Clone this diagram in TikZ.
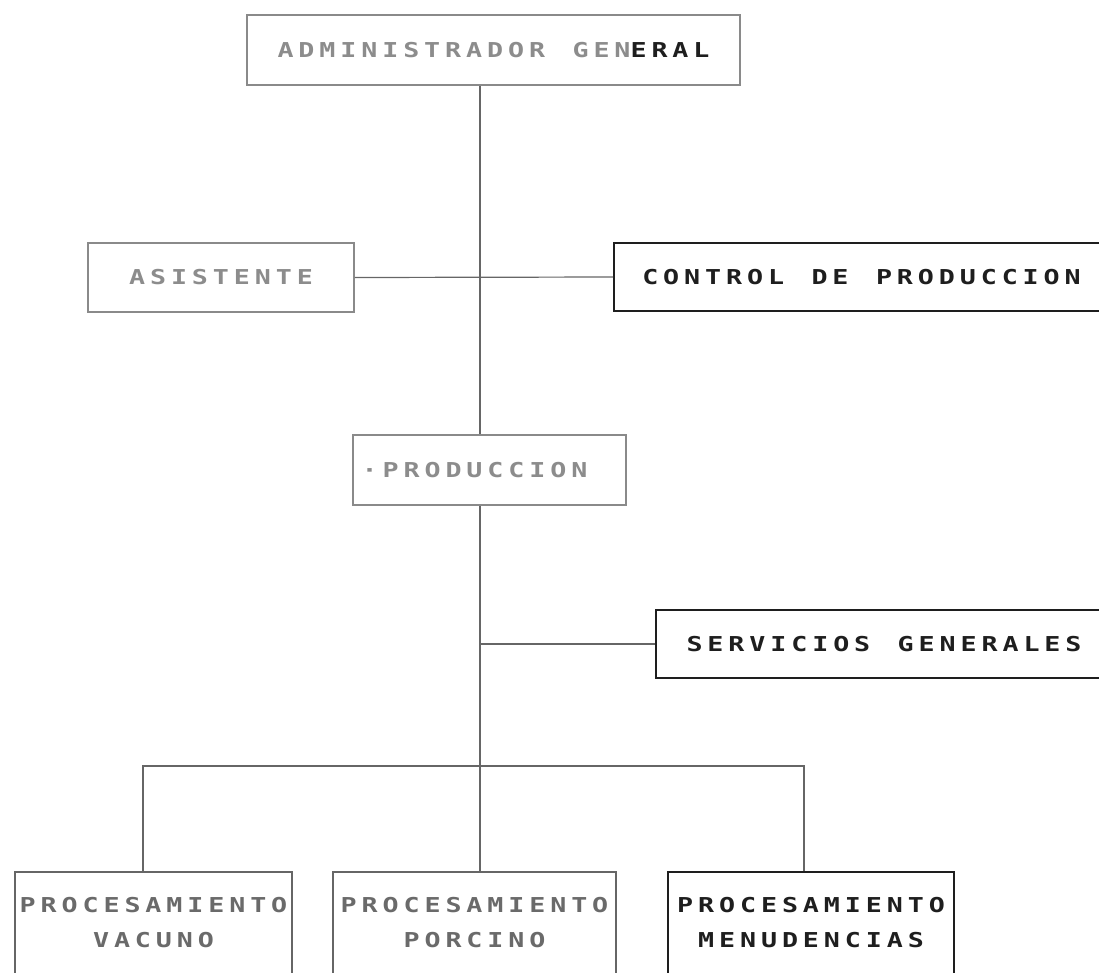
\documentclass[tikz,border=0pt]{standalone}
\usepackage{fontspec}
% wide, tracked monospace lettering for the box labels
\newfontfamily\boxfont[FakeStretch=1.3, LetterSpace=24, WordSpace=1.31]{DejaVu Sans Mono}
\definecolor{inkfade}{HTML}{8C8C8C}
\definecolor{inkmid}{HTML}{6A6A6A}
\definecolor{inkdark}{HTML}{1E1E1E}
\definecolor{edgefade}{HTML}{8A8A8A}
\definecolor{edgemid}{HTML}{666666}

\begin{document}
\begin{tikzpicture}[x=1pt, y=-1pt,
  unit/.style={draw, rectangle, inner sep=0pt, line width=1.6pt, align=center,
    font=\boxfont\bfseries\fontsize{20.5}{35}\selectfont},
  faded/.style={unit, draw=edgefade, text=inkfade},
  middling/.style={unit, draw=edgemid, text=inkmid},
  strong/.style={unit, draw=inkdark, text=inkdark},
  link/.style={draw=edgemid, line width=1.2pt}]
\useasboundingbox (0,0) rectangle (1099,972);

% boxes
\node[faded, minimum width=493pt, minimum height=70pt] (admin) at (493.5,50)
  {ADMINISTRADOR GEN{\color{inkdark}ERAL}};
\node[faded, minimum width=266pt, minimum height=69pt] (asist) at (221,277.5)
  {ASISTENTE};
\node[strong, minimum width=495pt, minimum height=68pt] (control) at (861.5,277)
  {CONTROL DE PRODUCCION};
% label sits a little left of the box centre
\node[faded, minimum width=273pt, minimum height=70pt] (prod) at (489.5,470)
  {\hspace*{-30pt}·PRODUCCION};
\node[strong, minimum width=456pt, minimum height=68pt] (serv) at (884,644)
  {SERVICIOS GENERALES};
\node[middling, minimum width=277pt, minimum height=102pt] (vac) at (153.5,923)
  {PROCESAMIENTO\\VACUNO};
\node[middling, minimum width=283pt, minimum height=102pt] (por) at (474.5,923)
  {PROCESAMIENTO\\PORCINO};
\node[strong, minimum width=286pt, minimum height=102pt] (men) at (811,923)
  {PROCESAMIENTO\\MENUDENCIAS};

% connectors
\coordinate (spine) at (480,0);
\coordinate (busl) at (143,766);
\coordinate (busr) at (804,766);
\draw[link] (admin.south -| spine) -- (prod.north -| spine);
\draw[link] (prod.south -| spine) -- (por.north -| spine);
\draw[link] (asist.east) -- (control.west);
\draw[link] (serv.west -| spine) -- (serv.west);
\draw[link] (busl |- vac.north) -- (busl) -- (busr) -- (busr |- men.north);
\end{tikzpicture}
\end{document}
